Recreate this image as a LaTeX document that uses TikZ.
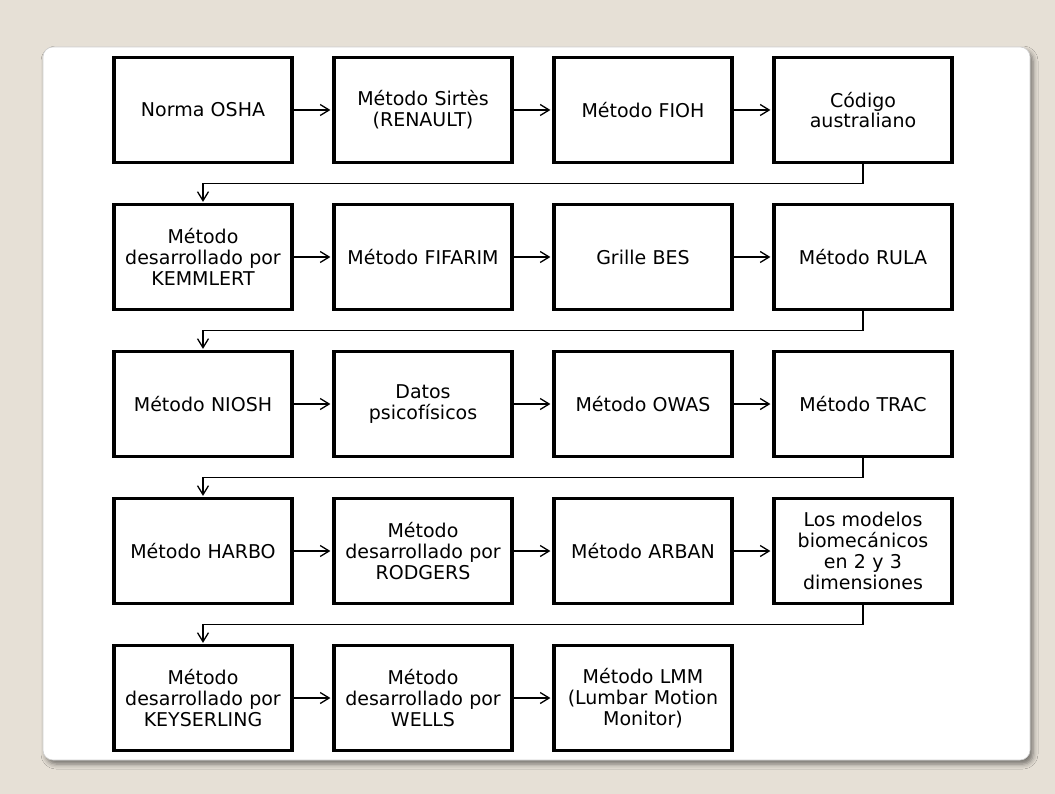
\documentclass[tikz,border=0pt]{standalone}
\usepackage{fontspec}
\setmainfont{DejaVu Sans}
\usetikzlibrary{arrows.meta,shadows.blur}
\definecolor{pagebg}{HTML}{E6E0D6}
\tikzset{
  stepbox/.style={draw=black, line width=3.2pt, fill=white,
    minimum width=177pt, minimum height=105pt, inner sep=2pt,
    align=center, text width=174pt,
    font=\fontsize{19}{20.8}\selectfont},
  link/.style={line width=1.3pt,
    -{Straight Barb[length=9pt,width=11pt,line width=1.3pt]}, shorten >=2pt},
  wrap/.style={line width=1.3pt,
    -{Straight Barb[length=9pt,width=11pt,line width=1.3pt]}, shorten >=1pt}
}
\begin{document}
\begin{tikzpicture}[x=1pt,y=-1pt]
  % page and card
  \fill[pagebg] (0,0) rectangle (1055,794);
  \useasboundingbox (0,0) rectangle (1055,794);
  \fill[white, rounded corners=10pt, draw=black!18, line width=0.6pt,
    blur shadow={shadow xshift=3pt, shadow yshift=-4pt,
      shadow blur radius=5pt, shadow opacity=50}]
    (43,47) rectangle (1030,760);

  % row 1
  \node[stepbox] (a1) at (203,110) {Norma OSHA};
  \node[stepbox] (a2) at (423,110) {Método Sirtès\\(RENAULT)};
  \node[stepbox] (a3) at (643,110) {Método FIOH};
  \node[stepbox] (a4) at (863,110) {Código\\australiano};
  % row 2
  \node[stepbox] (b1) at (203,257) {Método\\desarrollado por\\KEMMLERT};
  \node[stepbox] (b2) at (423,257) {Método FIFARIM};
  \node[stepbox] (b3) at (643,257) {Grille BES};
  \node[stepbox] (b4) at (863,257) {Método RULA};
  % row 3
  \node[stepbox] (c1) at (203,404) {Método NIOSH};
  \node[stepbox] (c2) at (423,404) {Datos\\psicofísicos};
  \node[stepbox] (c3) at (643,404) {Método OWAS};
  \node[stepbox] (c4) at (863,404) {Método TRAC};
  % row 4
  \node[stepbox] (d1) at (203,551) {Método HARBO};
  \node[stepbox] (d2) at (423,551) {Método\\desarrollado por\\RODGERS};
  \node[stepbox] (d3) at (643,551) {Método ARBAN};
  \node[stepbox] (d4) at (863,551) {Los modelos\\biomecánicos\\en 2 y 3\\dimensiones};
  % row 5
  \node[stepbox] (e1) at (203,698) {Método\\desarrollado por\\KEYSERLING};
  \node[stepbox] (e2) at (423,698) {Método\\desarrollado por\\WELLS};
  \node[stepbox] (e3) at (643,698) {Método LMM\\(Lumbar Motion\\Monitor)};

  % arrows within each row
  \foreach \r in {a,b,c,d}{
    \draw[link] (\r1.east) -- (\r2.west);
    \draw[link] (\r2.east) -- (\r3.west);
    \draw[link] (\r3.east) -- (\r4.west);
  }
  \draw[link] (e1.east) -- (e2.west);
  \draw[link] (e2.east) -- (e3.west);

  % wrap-around links from the end of a row to the start of the next
  \draw[wrap] (a4.south) -- ++(0,19.5) -| (b1.north);
  \draw[wrap] (b4.south) -- ++(0,19.5) -| (c1.north);
  \draw[wrap] (c4.south) -- ++(0,19.5) -| (d1.north);
  \draw[wrap] (d4.south) -- ++(0,19.5) -| (e1.north);
\end{tikzpicture}
\end{document}
